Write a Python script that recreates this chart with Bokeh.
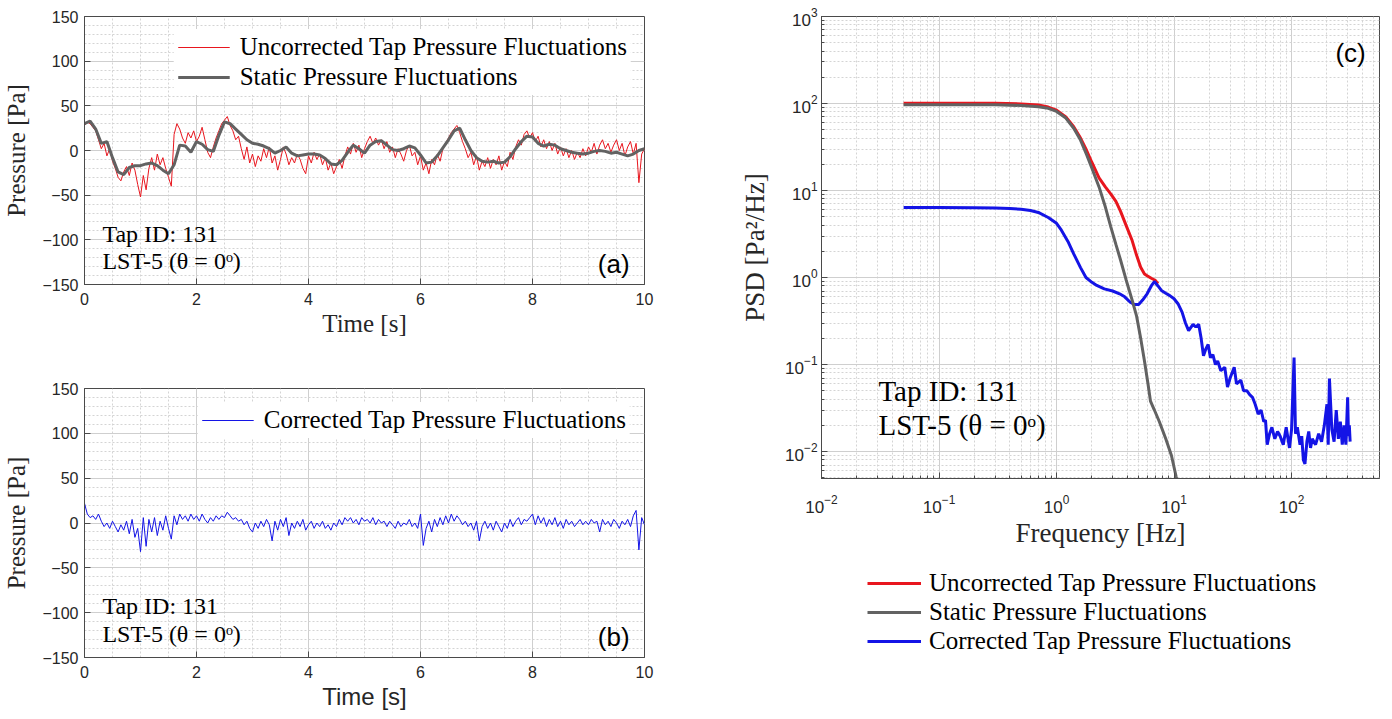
import numpy as np
from bokeh.plotting import figure
from bokeh.models import (Range1d, Legend, LegendItem, Label, FixedTicker, ColumnDataSource)
from bokeh.layouts import row, column
from bokeh.embed import file_html
from bokeh.resources import INLINE

# ---------------- data ----------------
DT_FINE = 0.05   # sample spacing of the noisy series [s]
DT_STATIC = 0.1  # sample spacing of the static series [s]

uncorrected_ts = [
    28, 32, 30, 26, 22, 12, 2, 8, -6, 2,
    -12, -20, -30, -34, -24, -18, -28, -14, -22, -38,
    -52, -28, -44, -20, -8, -22, -4, -16, -8, -20,
    -30, -40, 18, 30, 24, 14, 8, 20, 14, 22,
    10, 16, 26, 12, -2, -8, 4, 14, 22, 30,
    34, 38, 28, 22, 12, 16, 2, -10, 4, -14,
    -4, -18, -6, -12, 2, -8, 4, -14, -6, -22,
    -10, 4, -4, -16, -8, -14, -4, -10, -20, -26,
    -6, -14, -2, -10, -4, -16, -8, -22, -14, -26,
    -18, -10, -20, -6, 4, -4, 8, -2, 6, -8,
    2, 10, 16, 8, 14, 6, 12, 2, 10, -2,
    4, -8, 2, -4, -12, 0, 6, -6, -2, -16,
    -6, -22, -14, -26, -10, -16, -4, -12, 2, 8,
    14, 20, 24, 28, 20, 10, 2, -8, -2, -16,
    -6, -22, -12, -18, -8, -20, -10, -16, -6, -22,
    -12, -18, -2, -10, 4, 12, 6, 18, 22, 14,
    20, 10, 16, 4, 12, 2, 10, 0, 8, -4,
    4, -6, 2, -8, 0, -10, -2, -8, 2, -6,
    4, -2, 8, -4, 6, 12, 2, 8, -2, 6,
    12, 0, 8, -6, 4, 10, -4, 8, -36, -4,
    2]

static_ts = [
    30, 33, 24, 8, 10, -8, -24, -27, -19, -17,
    -17, -15, -14, -17, -22, -26, -16, 6, 5, -2,
    10, 7, 1, -1, 17, 32, 30, 24, 18, 12,
    8, 7, 5, 2, -3, 0, 4, -3, -6, -5,
    -4, -4, -5, -9, -15, -16, -11, -2, 6, 2,
    -3, 6, 10, 11, 6, 1, 0, 2, 5, 3,
    -5, -14, -13, -6, 3, 12, 22, 25, 12, 0,
    -8, -12, -13, -12, -14, -13, -7, 2, 10, 16,
    15, 8, 5, 7, 6, 2, 0, -2, -3, -4,
    -3, -1, 0, -1, -3, -2, -4, -6, -4, 0,
    2]

corrected_ts = [
    22, 10, 6, 8, 4, 10, 2, -4, 0, -6,
    2, -4, -10, -2, -8, 2, -12, 4, -16, -6,
    -32, 6, -26, 4, -10, 6, -14, 2, -8, 8,
    -6, -18, 8, -2, 10, 4, 8, 2, 10, 4,
    8, 2, 10, 4, 0, 6, 2, 8, 4, 8,
    6, 12, 8, 4, 6, 2, 4, -2, 2, -6,
    -10, 0, -6, 2, -4, 4, -2, -20, 2, -8,
    4, -4, 6, -14, 0, -6, 2, -4, 4, -8,
    -2, 2, -6, 0, -4, 2, -6, -2, -8, 0,
    -4, 4, -2, 6, 2, 6, 0, 4, -2, 6,
    2, 4, 0, 6, -2, 4, 0, 2, -4, 2,
    -2, -6, 2, -4, 0, -2, 4, -4, 0, -6,
    10, -25, -6, 2, -10, 4, -4, 6, -2, 8,
    0, 10, 2, 8, 4, -2, 2, -4, 0, -8,
    2, -20, -4, 2, -6, 0, -8, 2, -4, -10,
    0, -6, 4, -4, 2, 6, -2, 4, 2, 6,
    10, -2, 8, 0, 6, -4, 4, -2, 6, -4,
    2, -6, 4, -2, 2, -4, 0, 4, -2, 2,
    -2, 4, 0, 2, -10, 4, -2, 2, -4, 4,
    0, -6, 2, -2, 4, -4, 8, 14, -30, 6,
    -2]

freq_uncorr = [0.05, 0.1, 0.2, 0.3, 0.5, 0.7, 0.85, 1.0, 1.2, 1.4, 1.6, 1.8, 2.0,
               2.3, 2.6, 2.9, 3.2, 3.5, 3.9, 4.4, 4.8, 5.2, 5.6, 5.9, 6.4, 6.9, 7.3]
psd_uncorr = [101, 101, 101, 100.5, 99, 96, 91, 84, 70, 54, 40, 29, 21,
              14, 11, 9.1, 7.5, 5.8, 4.0, 2.66, 1.8, 1.31, 1.1, 1.05, 0.98, 0.93, 0.85]

freq_static = [0.05, 0.1, 0.2, 0.3, 0.5, 0.7, 0.85, 1.0, 1.2, 1.4, 1.6, 1.8, 2.0, 2.3,
               2.6, 2.9, 3.2, 3.5, 3.9, 4.4, 4.8, 5.2, 5.6, 6.0, 6.3, 6.8, 7.5, 8.5,
               9.5, 10.4, 11.5]
psd_static = [97, 97, 97, 96.5, 95, 92, 88, 81, 68, 52, 38, 26, 18, 11,
              6.5, 3.8, 2.4, 1.6, 0.95, 0.55, 0.36, 0.2, 0.11, 0.06, 0.038, 0.03, 0.022, 0.014,
              0.009, 0.0052, 0.003]

freq_corr = [0.05, 0.1, 0.2, 0.3, 0.4, 0.5, 0.6, 0.7, 0.85, 1.0, 1.1, 1.25, 1.4, 1.6,
             1.78, 2.0, 2.2, 2.55, 3.0, 3.44, 3.8, 4.24, 4.6, 5.0, 5.4, 5.9, 6.4, 6.8,
             7.3, 7.8, 8.5, 9.2, 10, 10.8, 11.7, 12.5, 13.3, 14.5, 15.3, 16.2, 17.0,
             17.8, 18.6, 19.5, 20.4, 21.4, 22.5, 23.5, 25, 27, 28.5, 30, 32.5, 34, 37,
             39, 41.6, 44, 46.5, 49, 52, 55, 58, 60, 62, 65, 68, 72, 76, 80, 85, 90,
             96, 100, 105, 108, 112, 118, 122, 126, 130, 135, 140, 145, 150, 160, 170,
             180, 190, 200, 205, 210, 220, 230, 240, 250, 260, 270, 280, 290, 300,
             305, 310, 315]
psd_corr = [6.4, 6.4, 6.35, 6.3, 6.2, 6.1, 5.9, 5.6, 4.9, 4.2, 3.5, 2.6, 1.87, 1.3,
            1.0, 0.88, 0.81, 0.74, 0.70, 0.65, 0.6, 0.52, 0.49, 0.49, 0.55, 0.65, 0.80, 0.90,
            0.80, 0.71, 0.66, 0.62, 0.57, 0.50, 0.40, 0.30, 0.245, 0.29, 0.27, 0.29, 0.20,
            0.126, 0.15, 0.17, 0.12, 0.13, 0.10, 0.11, 0.085, 0.093, 0.055, 0.07, 0.093, 0.06, 0.066,
            0.05, 0.05, 0.045, 0.042, 0.035, 0.027, 0.03, 0.022, 0.023, 0.012, 0.016, 0.019, 0.014, 0.017, 0.015, 0.012, 0.019,
            0.011, 0.018, 0.12, 0.016, 0.019, 0.012, 0.015, 0.008, 0.0072, 0.013, 0.017, 0.011, 0.014, 0.012, 0.016,
            0.013, 0.02, 0.035, 0.012, 0.069, 0.018, 0.013, 0.03, 0.014, 0.022, 0.012, 0.02, 0.012, 0.042,
            0.015, 0.02, 0.013]

time_ticks = [0, 2, 4, 6, 8, 10]
time_minor = [0.5 * i for i in range(21)]
pres_ticks = [-150, -100, -50, 0, 50, 100, 150]
pres_minor = list(range(-150, 151, 10))

legend_labels = ["Uncorrected Tap Pressure Fluctuations",
                 "Static Pressure Fluctuations",
                 "Corrected Tap Pressure Fluctuations"]
tap_text = "Tap ID: 131"
case_text = "LST-5 (\u03b8 = 0\u1d52)"

# ---------------- styling ----------------
RED = "#e8161e"
GRAY = "#626262"
BLUE = "#1414e6"
AX = "#4a4a4a"
TXT = "#262626"
SERIF = "Liberation Serif"
SANS = "Liberation Sans"
GRID = "#cfcfcf"
MGRID = "#d4d4d4"

t_fine = np.arange(len(uncorrected_ts)) * DT_FINE
t_static = np.arange(len(static_ts)) * DT_STATIC
t_corr = np.arange(len(corrected_ts)) * DT_FINE


def style_axis(ax, minor_in=0, size="16px"):
    ax.axis_line_color = AX
    ax.major_tick_line_color = AX
    ax.minor_tick_line_color = AX
    ax.major_tick_in = 6
    ax.major_tick_out = 0
    ax.minor_tick_in = minor_in
    ax.minor_tick_out = 0
    ax.major_label_text_font = SANS
    ax.major_label_text_color = TXT
    ax.major_label_text_font_size = size


def style_grid(p):
    for g in (p.xgrid, p.ygrid):
        g.grid_line_color = GRID
        g.grid_line_width = 1
        g.minor_grid_line_color = MGRID
        g.minor_grid_line_dash = "2 2"


def time_fig(frame_h, top, bottom, xlabel, xfont, xsize):
    p = figure(frame_width=560, frame_height=frame_h,
               x_range=Range1d(0, 10), y_range=Range1d(-150, 150),
               output_backend="svg", toolbar_location=None,
               min_border_left=76, min_border_right=54,
               min_border_top=top, min_border_bottom=bottom)
    xt = FixedTicker(ticks=time_ticks, minor_ticks=time_minor)
    yt = FixedTicker(ticks=pres_ticks, minor_ticks=pres_minor)
    p.xaxis.ticker = xt
    p.yaxis.ticker = yt
    p.xgrid.ticker = xt
    p.ygrid.ticker = yt
    style_grid(p)
    style_axis(p.xaxis[0])
    style_axis(p.yaxis[0])
    p.xaxis.axis_label = xlabel
    p.xaxis.axis_label_text_font = xfont
    p.xaxis.axis_label_text_font_size = xsize
    p.xaxis.axis_label_text_font_style = "normal"
    p.xaxis.axis_label_text_color = TXT
    p.xaxis.major_label_standoff = 8
    p.xaxis.axis_label_standoff = 2
    p.yaxis.axis_label = "Pressure [Pa]"
    p.yaxis.axis_label_text_font = SERIF
    p.yaxis.axis_label_text_font_size = "25px"
    p.yaxis.axis_label_text_font_style = "normal"
    p.yaxis.axis_label_text_color = TXT
    p.yaxis.major_label_standoff = 6
    p.yaxis.axis_label_standoff = 9
    p.outline_line_color = AX
    p.outline_line_alpha = 1
    for txt, yv in ((tap_text, -93), (case_text, -124)):
        p.add_layout(Label(x=0.32, y=yv, text=txt, text_font=SERIF, text_font_size="24px",
                           text_baseline="middle", text_color="black"))
    return p


def make_legend(items, loc, margin):
    return Legend(items=items, location=loc, margin=margin,
                  label_text_font=SERIF, label_text_font_size="25px", label_text_color="black",
                  glyph_width=52, glyph_height=28, label_height=28, label_standoff=10,
                  padding=4, spacing=2, border_line_alpha=0,
                  background_fill_color="white", background_fill_alpha=1)


# ---------------- panel (a) ----------------
pa = time_fig(268, 16, 60, "Time [s]", SERIF, "25px")
ra = pa.line(t_fine, uncorrected_ts, line_color=RED, line_width=1)
ga = pa.line(t_static, static_ts, line_color=GRAY, line_width=3)
pa.add_layout(make_legend([LegendItem(label=legend_labels[0], renderers=[ra]),
                           LegendItem(label=legend_labels[1], renderers=[ga])], "top_right", 13))
pa.add_layout(Label(x=9.45, y=-127, text="(a)", text_font=SANS, text_font_size="26px",
                    text_align="center", text_baseline="middle", text_color="black"))

# ---------------- panel (b) ----------------
pb = time_fig(269, 44, 55, "Time [s]", SANS, "24px")
bb = pb.line(t_corr, corrected_ts, line_color=BLUE, line_width=1)
pb.add_layout(make_legend([LegendItem(label=legend_labels[2], renderers=[bb])], "top_right", 14))
pb.add_layout(Label(x=9.45, y=-127, text="(b)", text_font=SANS, text_font_size="26px",
                    text_align="center", text_baseline="middle", text_color="black"))

# ---------------- panel (c) ----------------
pc = figure(frame_width=558, frame_height=462, x_axis_type="log", y_axis_type="log",
            x_range=Range1d(0.01, 560), y_range=Range1d(0.0049, 1000),
            output_backend="svg", toolbar_location=None,
            min_border_left=123, min_border_right=3, min_border_top=16, min_border_bottom=80)
style_grid(pc)
style_axis(pc.xaxis[0], minor_in=3, size="17px")
style_axis(pc.yaxis[0], minor_in=3, size="17px")
pc.xaxis.major_label_standoff = 16
pc.yaxis.major_label_standoff = 4
pc.xaxis.axis_label = "Frequency [Hz]"
pc.yaxis.axis_label = "PSD [Pa\u00b2/Hz]"
for ax in (pc.xaxis[0], pc.yaxis[0]):
    ax.axis_label_text_font = SERIF
    ax.axis_label_text_font_size = "27px"
    ax.axis_label_text_font_style = "normal"
    ax.axis_label_text_color = TXT
pc.xaxis.axis_label_standoff = 2
pc.yaxis.axis_label_standoff = 12
pc.outline_line_color = AX
pc.outline_line_alpha = 1

rc = pc.line(freq_uncorr, psd_uncorr, line_color=RED, line_width=3)
bc = pc.line(freq_corr, psd_corr, line_color=BLUE, line_width=3)
gc = pc.line(freq_static, psd_static, line_color=GRAY, line_width=3)

for txt, yv in ((tap_text, 0.050), (case_text, 0.0204)):
    pc.add_layout(Label(x=0.0305, y=yv, text=txt, text_font=SERIF, text_font_size="29px",
                        text_baseline="middle", text_color="black"))
pc.add_layout(Label(x=318, y=385, text="(c)", text_font=SANS, text_font_size="26px",
                    text_align="center", text_baseline="middle", text_color="black"))

# ---------------- shared legend of panel (c), below it ----------------
# (its frame is aligned by the column layout with the frame of panel (c))
LEG_H = 153
pleg = figure(width=684, height=LEG_H, x_axis_location=None, y_axis_location=None,
              x_range=Range1d(0, 1), y_range=Range1d(0, 1),
              toolbar_location=None, output_backend="svg", min_border=0)
pleg.grid.visible = False
pleg.outline_line_color = None
nan = float("nan")
lr = pleg.line("x", "y", source=ColumnDataSource(dict(x=[nan], y=[nan])), line_color=RED, line_width=3)
lg = pleg.line("x", "y", source=ColumnDataSource(dict(x=[nan], y=[nan])), line_color=GRAY, line_width=3)
lb = pleg.line("x", "y", source=ColumnDataSource(dict(x=[nan], y=[nan])), line_color=BLUE, line_width=3)
legc = Legend(items=[LegendItem(label=legend_labels[0], renderers=[lr]),
                     LegendItem(label=legend_labels[1], renderers=[lg]),
                     LegendItem(label=legend_labels[2], renderers=[lb])],
              location=(44, 54), orientation="vertical", margin=0,
              label_text_font=SERIF, label_text_font_size="25px", label_text_color="black",
              glyph_width=54, glyph_height=28, label_height=28, label_standoff=8,
              padding=2, spacing=1, border_line_alpha=0, background_fill_alpha=0)
pleg.add_layout(legc)

layout = row(column(pa, pb), column(pc, pleg))
open("out.html", "w").write(file_html(layout, INLINE))
